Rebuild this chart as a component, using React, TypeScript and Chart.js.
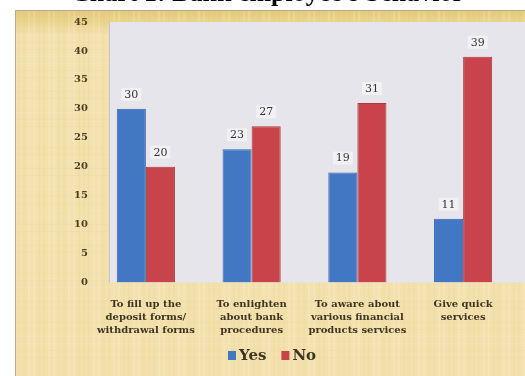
import React, { useEffect, useRef } from "react";
import { Chart, registerables } from "chart.js";

Chart.register(...registerables);

const chartTitle = "Chart 1: Bank employee's behavior";
const categories: string[][] = [
  ["To fill up the", "deposit forms/", "withdrawal forms"],
  ["To enlighten", "about bank", "procedures"],
  ["To aware about", "various financial", "products services"],
  ["Give quick", "services"],
];
const seriesNames = ["Yes", "No"];
const yesValues = [30, 23, 19, 11];
const noValues = [20, 27, 31, 39];
const yMin = 0;
const yMax = 45;
const yStep = 5;

const BLUE = "#4277c4";
const RED = "#c9434a";
const SERIF = '"DejaVu Serif", serif';

const backgroundPlugin = {
  id: "pageBackground",
  beforeDraw(chart: any) {
    const { ctx, width, height, chartArea } = chart;
    ctx.save();
    ctx.fillStyle = "#ffffff";
    ctx.fillRect(0, 0, width, height);
    const px = 15;
    const py = 10;
    const g = ctx.createLinearGradient(0, py, 0, height);
    g.addColorStop(0, "#e4c977");
    g.addColorStop(0.03, "#ead48e");
    g.addColorStop(0.07, "#f3e1ae");
    g.addColorStop(1, "#f3e0ad");
    ctx.fillStyle = g;
    ctx.fillRect(px, py, width - px, height - py);
    // faint papyrus fibres
    for (let x = px + 3; x < width; x += 5) {
      const a = ((x * 37) % 13) / 13;
      ctx.fillStyle = a > 0.5 ? "rgba(255,250,230,0.16)" : "rgba(215,185,120,0.07)";
      ctx.fillRect(x, py, 2, height - py);
    }
    for (let y = py + 4; y < height; y += 7) {
      const a = ((y * 53) % 11) / 11;
      ctx.fillStyle = a > 0.5 ? "rgba(255,250,230,0.12)" : "rgba(215,185,120,0.07)";
      ctx.fillRect(px, y, width - px, 1);
    }
    ctx.strokeStyle = "#b8ab92";
    ctx.lineWidth = 1;
    ctx.beginPath();
    ctx.moveTo(px + 0.5, height);
    ctx.lineTo(px + 0.5, py + 0.5);
    ctx.lineTo(width, py + 0.5);
    ctx.stroke();
    // plot area panel
    const left = chartArea.left + 16;
    ctx.fillStyle = "#e6e5eb";
    ctx.fillRect(left, chartArea.top, width - left, chartArea.bottom - chartArea.top);
    ctx.strokeStyle = "#c9c5bd";
    ctx.beginPath();
    ctx.moveTo(left + 0.5, chartArea.top);
    ctx.lineTo(left + 0.5, chartArea.bottom);
    ctx.stroke();
    ctx.restore();
  },
};

const valueLabelPlugin = {
  id: "valueLabels",
  afterDatasetsDraw(chart: any) {
    const { ctx } = chart;
    ctx.save();
    ctx.font = `11px ${SERIF}`;
    ctx.textAlign = "center";
    ctx.textBaseline = "middle";
    chart.data.datasets.forEach((ds: any, di: number) => {
      const meta = chart.getDatasetMeta(di);
      meta.data.forEach((bar: any, i: number) => {
        const txt = String(ds.data[i]);
        const w = ctx.measureText(txt).width;
        ctx.fillStyle = "rgba(255,255,255,0.45)";
        ctx.fillRect(bar.x - w / 2 - 3, bar.y - 21, w + 6, 13);
        ctx.fillStyle = "#333333";
        ctx.fillText(txt, bar.x, bar.y - 14);
      });
    });
    ctx.restore();
  },
};

const legendPlugin = {
  id: "customLegend",
  afterDraw(chart: any) {
    const { ctx } = chart;
    ctx.save();
    ctx.font = `bold 15px ${SERIF}`;
    ctx.textBaseline = "middle";
    ctx.textAlign = "left";
    let x = 228;
    const cy = 356;
    chart.data.datasets.forEach((ds: any) => {
      ctx.fillStyle = ds.backgroundColor;
      ctx.fillRect(x, cy - 5, 8, 9);
      x += 11;
      ctx.fillStyle = "#3e3620";
      ctx.fillText(ds.label, x, cy);
      x += ctx.measureText(ds.label).width + 15;
    });
    ctx.restore();
  },
};

export default function App() {
  const canvasRef = useRef<HTMLCanvasElement | null>(null);

  useEffect(() => {
    const canvas = canvasRef.current;
    if (!canvas) return;
    const chart = new Chart(canvas, {
      type: "bar",
      data: {
        labels: categories,
        datasets: [
          {
            label: seriesNames[0],
            data: yesValues,
            backgroundColor: BLUE,
            borderColor: "#3866ad",
            borderWidth: 1,
          },
          {
            label: seriesNames[1],
            data: noValues,
            backgroundColor: RED,
            borderColor: "#a93a3f",
            borderWidth: 1,
          },
        ],
      },
      options: {
        responsive: false,
        animation: false,
        events: [],
        layout: { padding: { left: 0, right: 9, top: 22, bottom: 0 } },
        datasets: { bar: { barPercentage: 1, categoryPercentage: 0.55 } },
        plugins: {
          legend: { display: false },
          title: { display: false },
          tooltip: { enabled: false },
        },
        scales: {
          x: {
            grid: { display: false, drawTicks: false },
            border: { display: false },
            ticks: {
              autoSkip: false,
              maxRotation: 0,
              minRotation: 0,
              padding: 15,
              color: "#3e3620",
              font: { family: SERIF, size: 10, weight: "bold", lineHeight: 1.3 },
            },
            afterFit(scale: any) {
              scale.height = 93.5;
            },
          },
          y: {
            min: yMin,
            max: yMax,
            grid: { display: false, drawTicks: false },
            border: { display: false },
            ticks: {
              stepSize: yStep,
              padding: 5,
              color: "#4d3f22",
              font: { family: SERIF, size: 10, weight: "bold" },
            },
            afterFit(scale: any) {
              scale.width = 93;
            },
          },
        },
      },
      plugins: [backgroundPlugin, valueLabelPlugin, legendPlugin],
    });
    return () => chart.destroy();
  }, []);

  return (
    <div
      style={{
        position: "fixed",
        left: 0,
        top: 0,
        width: 525,
        height: 376,
        overflow: "hidden",
        background: "#ffffff",
      }}
    >
      <canvas ref={canvasRef} width={525} height={376} style={{ display: "block" }} />
      <div
        style={{
          position: "absolute",
          left: 0,
          top: -20,
          width: 535,
          textAlign: "center",
          whiteSpace: "nowrap",
          fontFamily: '"Liberation Serif", "Times New Roman", serif',
          fontWeight: "bold",
          fontSize: 26,
          lineHeight: "26px",
          color: "#000000",
        }}
      >
        {chartTitle}
      </div>
    </div>
  );
}
